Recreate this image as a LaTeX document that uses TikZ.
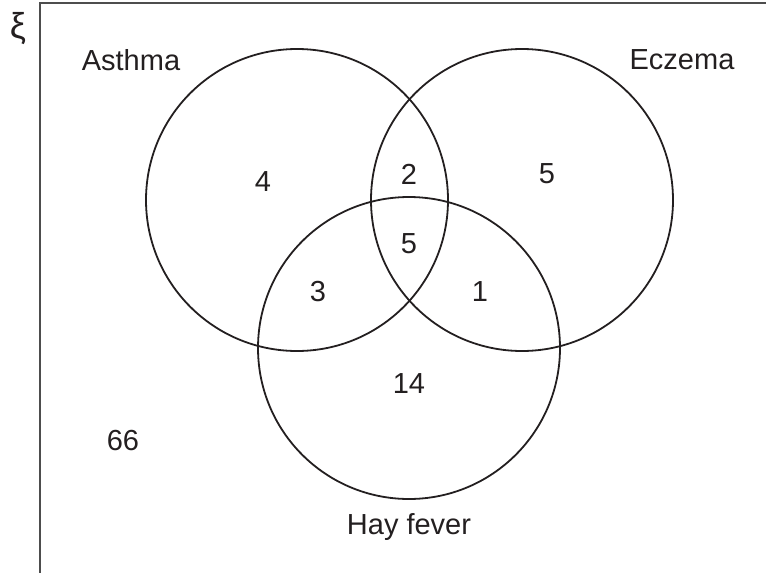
\documentclass[tikz,border=0pt]{standalone}
\usepackage{fontspec}
\setmainfont{Liberation Sans}
\definecolor{ink}{HTML}{231F20}
\definecolor{frame}{HTML}{4D4D4D}
\begin{document}
\begin{tikzpicture}[x=1pt,y=-1pt,
  setc/.style={circle,draw=ink,line width=1.8pt,minimum size=302pt,inner sep=0pt},
  lbl/.style={text=ink,font=\fontsize{29}{30}\selectfont,inner sep=0pt}]
\useasboundingbox (0,0) rectangle (766,573);
\draw[frame,line width=2.2pt] (40,573) -- (40,3) -- (766,3);
\node[setc] (A) at (297,200) {};
\node[setc] (E) at (522,200) {};
\node[setc] (H) at (409,348) {};
\node[lbl,font=\fontsize{36}{38}\selectfont] (xi) at (18,29) {ξ};
\node[lbl] (an) at (131,60) {Asthma};
\node[lbl] (en) at (682,60) {Eczema};
\node[lbl] (hn) at (409,527) {Hay fever};
\node[lbl] (a) at (263,182) {4};
\node[lbl] (ae) at (409,174) {2};
\node[lbl] (e) at (547,174) {5};
\node[lbl] (aeh) at (409,244) {5};
\node[lbl] (ah) at (318,292) {3};
\node[lbl] (eh) at (480,292) {1};
\node[lbl] (h) at (409,384) {14};
\node[lbl] (out) at (123,441) {66};
\end{tikzpicture}
\end{document}
